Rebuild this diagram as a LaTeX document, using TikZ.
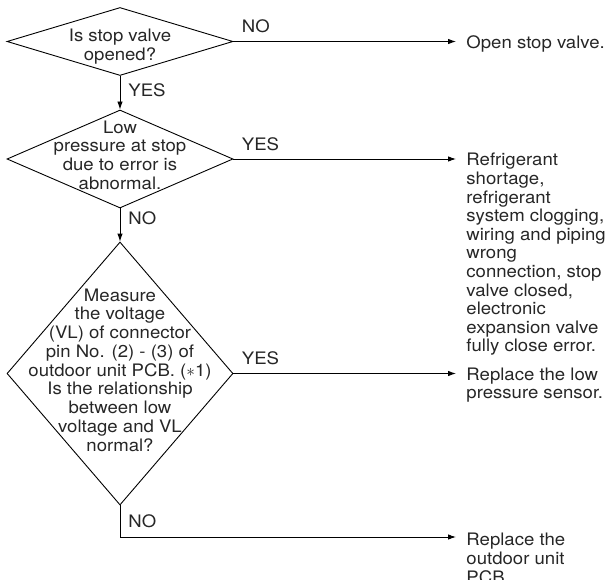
\documentclass[tikz,border=0pt]{standalone}
\usepackage{fontspec}
\setmainfont[FakeStretch=1.08]{TeX Gyre Heros}
\usetikzlibrary{shapes.geometric,arrows.meta}
\begin{document}
\begin{tikzpicture}[x=1pt, y=-1pt, line width=0.9pt,
  every node/.style={font=\fontsize{17.2pt}{18.6pt}\selectfont, text=black!85},
  decision/.style={draw=black, diamond, inner sep=0pt, minimum width=226pt},
  qtext/.style={align=center, inner sep=0pt},
  result/.style={align=left, anchor=north west, inner sep=0pt},
  lbl/.style={inner sep=0pt},
  arr/.style={-{Latex[length=8pt,width=5.5pt]}},
  toresult/.style={arr, shorten >=10pt}]
\useasboundingbox (0,0) rectangle (607,580);
% decisions
\node[decision, minimum height=68pt] (d1) at (120,41.5) {};
\node[qtext] (q1) at (120,46.5) {Is stop valve\\opened?};
\node[decision, minimum height=98pt] (d2) at (120,159) {};
\node[qtext] (q2) at (120,155) {Low\\pressure at stop\\due to error is\\abnormal.};
\node[decision, minimum height=263pt] (d3) at (120,373.5) {};
\node[qtext, font=\fontsize{17.2pt}{18.75pt}\selectfont] (q3) at (120,370)
  {Measure\\the voltage\\(VL) of connector\\pin No. (2) - (3) of\\outdoor unit PCB. ($\ast$1)\\Is the relationship\\between low\\voltage and VL\\normal?};
% results
\node[result] (r1) at (466,35.6) {Open stop valve.};
\node[result] (r2) at (466,152.8) {Refrigerant\\shortage,\\refrigerant\\system clogging,\\wiring and piping\\wrong\\connection, stop\\valve closed,\\electronic\\expansion valve\\fully close error.};
\node[result] (r3) at (466,367.2) {Replace the low\\pressure sensor.};
\node[result] (r4) at (466,533) {Replace the\\outdoor unit\\PCB.};
\coordinate (c4) at (120,537);
% connectors
\draw[toresult] (d1.east) -- (d1.east -| r1.west) node[lbl, above right=8pt, pos=0] {NO};
\draw[arr] (d1.south) -- (d2.north) node[lbl, right=8pt, pos=0.42] {YES};
\draw[toresult] (d2.east) -- (d2.east -| r2.west) node[lbl, above right=8pt, pos=0] {YES};
\draw[arr] (d2.south) -- (d3.north) node[lbl, right=8pt, pos=0.3] {NO};
\draw[toresult] (d3.east) -- (d3.east -| r3.west) node[lbl, above right=8pt, pos=0] {YES};
\draw[toresult] (d3.south) -- (c4) node[lbl, right=8pt, midway] {NO} -- (c4 -| r4.west);
\end{tikzpicture}
\end{document}
